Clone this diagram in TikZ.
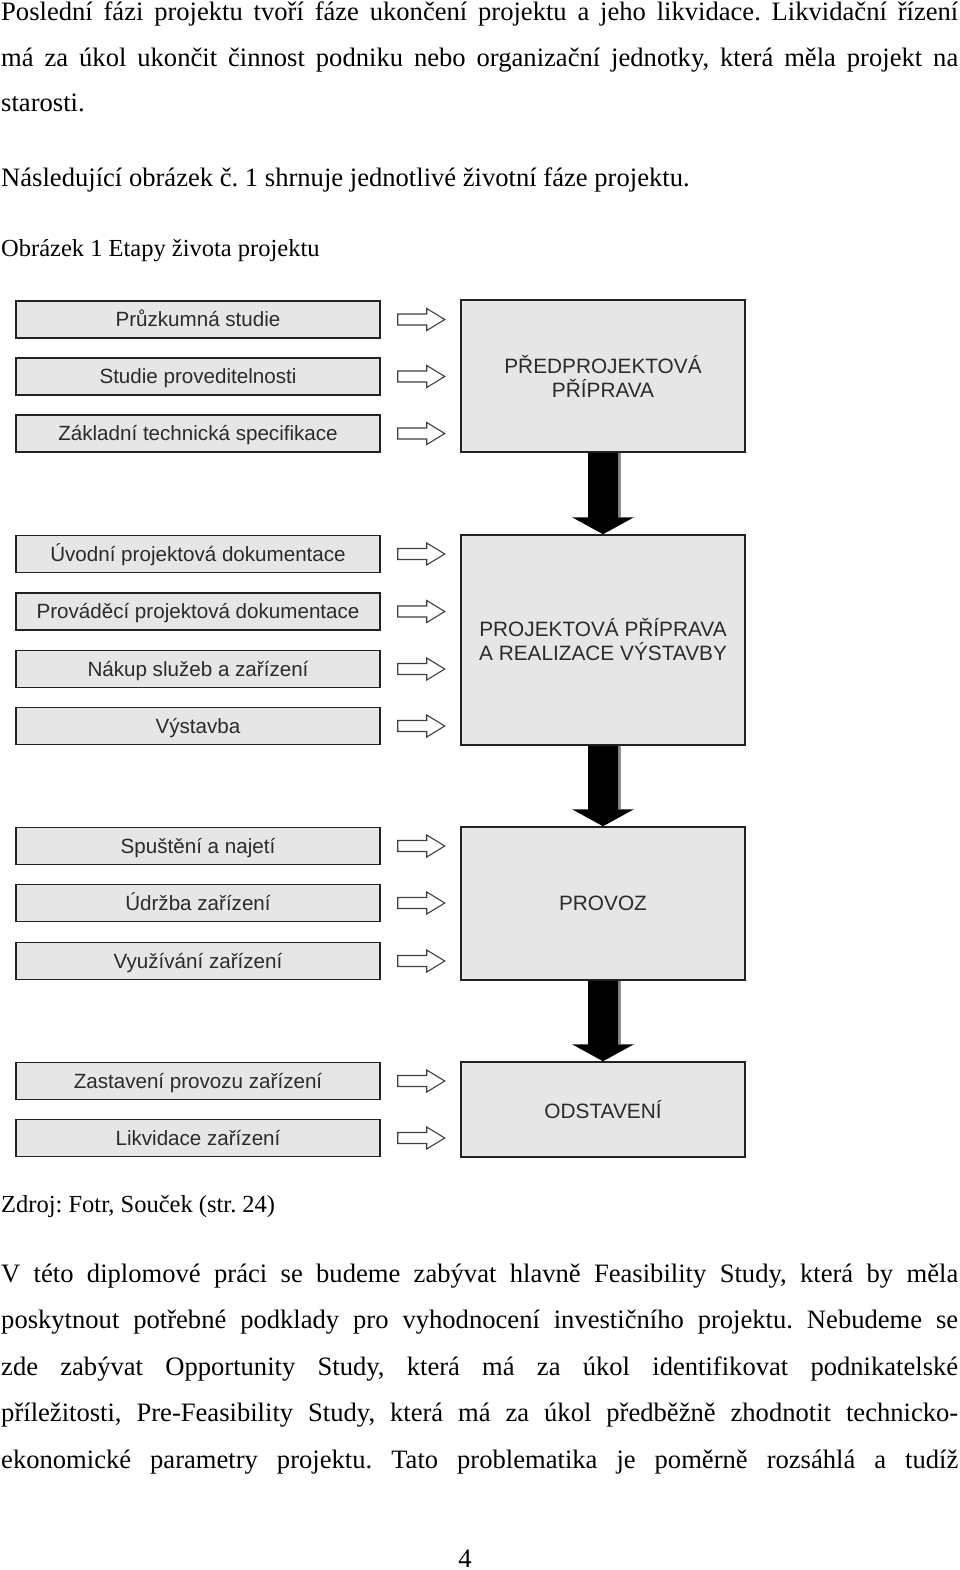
\documentclass[tikz,border=0pt]{standalone}
\usepackage{fontspec}
\setmainfont{Liberation Serif}
\newfontfamily\diagfont{Liberation Sans}
\usetikzlibrary{calc}
\definecolor{boxfill}{HTML}{E6E6E6}
\definecolor{boxline}{HTML}{222222}
\definecolor{dtext}{HTML}{2B2B2B}
\tikzset{
  body/.style={font=\fontsize{26.6}{30}\selectfont\frenchspacing, inner sep=0pt, anchor=base west},
  caption/.style={body, font=\fontsize{24.5}{28}\selectfont\frenchspacing},
  lbox/.style={draw=boxline, fill=boxfill, line width=1.5pt, minimum width=364pt, minimum height=37pt, inner sep=0pt, text height=14.6pt, text depth=0pt, text=dtext, font=\diagfont\fontsize{20.6}{22}\selectfont},
  rbox/.style={draw=boxline, fill=boxfill, line width=1.5pt, minimum width=284pt, inner sep=0pt, text=dtext, align=center, font=\diagfont\fontsize{20.8}{24}\selectfont},
  harr/.style={draw=black!75, fill=white, line width=1.1pt, line join=miter},
  barr/.style={fill=black},
}
\newcommand\harrow[1]{\draw[harr] ($(#1.east)+(17,-5.5)$) -- ++(29,0) -- ++(0,-5.5) -- ++(18,11) -- ++(-18,11) -- ++(0,-5.5) -- ++(-29,0) -- cycle;}
\newcommand\barrow[2]{%
  \fill[black!45] ($(#1.south)+(15,0)$) rectangle ($(#2.north)+(18,-17)$);
  \fill[barr] ($(#1.south)+(-15,0)$) -- ($(#2.north)+(-15,-17)$) -- ++(-16,0) -- (#2.north) -- ++(31,-17) -- ++(-16,0) -- ($(#1.south)+(15,0)$) -- cycle;}
\begin{document}
\begin{tikzpicture}[x=1pt,y=-1pt]
\useasboundingbox[fill=white] (0,0) rectangle (960,1570);

% body text above
\node[body] (t1) at (1,21) {\makebox[957pt][s]{Poslední fázi projektu tvoří fáze ukončení projektu a jeho likvidace. Likvidační řízení}};
\node[body] (t2) at (1,67) {\makebox[957pt][s]{má za úkol ukončit činnost podniku nebo organizační jednotky, která měla projekt na}};
\node[body] (t3) at (1,112) {starosti.};
\node[body] (t4) at (1,187) {Následující obrázek č. 1 shrnuje jednotlivé životní fáze projektu.};
\node[caption] (t5) at (1,257) {Obrázek 1 Etapy života projektu};

% left boxes
\node[lbox] (l1) at (198,319.5) {Průzkumná studie};
\node[lbox] (l2) at (198,376.5) {Studie proveditelnosti};
\node[lbox] (l3) at (198,433.5) {Základní technická specifikace};
\node[lbox] (l4) at (198,554) {Úvodní projektová dokumentace};
\node[lbox] (l5) at (198,611.5) {Prováděcí projektová dokumentace};
\node[lbox] (l6) at (198,669) {Nákup služeb a zařízení};
\node[lbox] (l7) at (198,726) {Výstavba};
\node[lbox] (l8) at (198,846) {Spuštění a najetí};
\node[lbox] (l9) at (198,903) {Údržba zařízení};
\node[lbox] (l10) at (198,961) {Využívání zařízení};
\node[lbox] (l11) at (198,1081) {Zastavení provozu zařízení};
\node[lbox] (l12) at (198,1138) {Likvidace zařízení};

% right boxes
\node[rbox, minimum height=152pt] (r1) at (603,376) {PŘEDPROJEKTOVÁ\\PŘÍPRAVA};
\node[rbox, minimum height=210pt] (r2) at (603,640) {PROJEKTOVÁ PŘÍPRAVA\\A REALIZACE VÝSTAVBY};
\node[rbox, minimum height=153pt] (r3) at (603,903.5) {PROVOZ};
\node[rbox, minimum height=95pt] (r4) at (603,1109.5) {ODSTAVENÍ};

% hollow arrows
\foreach \n in {l1,l2,l3,l4,l5,l6,l7,l8,l9,l10,l11,l12} {\harrow{\n}}

% black arrows
\barrow{r1}{r2}
\barrow{r2}{r3}
\barrow{r3}{r4}

% body text below
\node[caption] (src) at (1,1212) {Zdroj: Fotr, Souček (str. 24)};
\node[body] (p1) at (1,1282) {\makebox[957pt][s]{V této diplomové práci se budeme zabývat hlavně Feasibility Study, která by měla}};
\node[body] (p2) at (1,1328) {\makebox[957pt][s]{poskytnout potřebné podklady pro vyhodnocení investičního projektu. Nebudeme se}};
\node[body] (p3) at (1,1375) {\makebox[957pt][s]{zde zabývat Opportunity Study, která má za úkol identifikovat podnikatelské}};
\node[body] (p4) at (1,1421) {\makebox[957pt][s]{příležitosti, Pre-Feasibility Study, která má za úkol předběžně zhodnotit technicko-}};
\node[body] (p5) at (1,1468) {\makebox[957pt][s]{ekonomické parametry projektu. Tato problematika je poměrně rozsáhlá a tudíž}};
\node[body, anchor=base] (pg) at (465,1567) {4};
\end{tikzpicture}
\end{document}
